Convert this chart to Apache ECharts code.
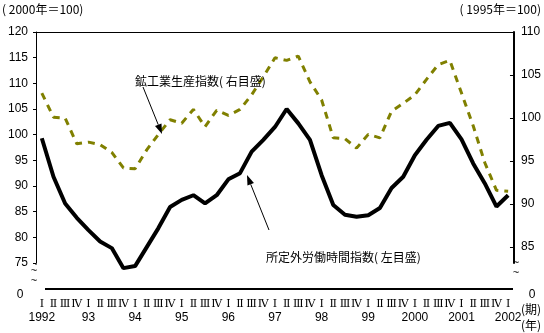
<!DOCTYPE html>
<html>
<head>
<meta charset="utf-8">
<script src="https://cdn.jsdelivr.net/npm/echarts@6/dist/echarts.min.js"></script>
<style>
  html, body { margin: 0; padding: 0; background: #fff; }
  #chart { width: 544px; height: 333px; }
</style>
</head>
<body>
<div id="chart"></div>
<script>
// Year labels (shown under each first quarter) and quarter marks
const years = ['1992', '93', '94', '95', '96', '97', '98', '99', '2000', '2001', '2002'];
const quarterMarks = ['Ⅰ', 'Ⅱ', 'Ⅲ', 'Ⅳ'];

// Axis tick values
const leftTicks = [75, 80, 85, 90, 95, 100, 105, 110, 115, 120];
const rightTicks = [85, 90, 95, 100, 105, 110];

// 所定外労働時間指数 (2000年=100, left scale), 1992Ⅰ .. 2002Ⅰ
const overtimeIndex = [
  99.3, 91.8, 86.6, 83.8,
  81.4, 79.2, 77.9, 74.0,
  74.4, 78.1, 81.8, 85.9,
  87.3, 88.2, 86.6, 88.2,
  91.3, 92.5, 96.7, 99.0,
  101.5, 105.0, 102.2, 99.0,
  92.1, 86.3, 84.4, 84.0,
  84.3, 85.7, 89.6, 91.8,
  96.0, 99.0, 101.7, 102.3,
  99.1, 94.4, 90.5, 86.0,
  88.2
];

// 鉱工業生産指数 (1995年=100, right scale), 1992Ⅰ .. 2002Ⅰ
const productionIndex = [
  102.9, 100.1, 100.0, 97.0,
  97.2, 96.9, 96.0, 94.2,
  94.1, 96.3, 98.1, 99.8,
  99.4, 101.0, 99.0, 100.9,
  100.3, 101.0, 102.7, 104.8,
  107.0, 106.7, 107.2, 104.2,
  102.1, 97.7, 97.6, 96.5,
  98.1, 97.7, 100.8, 101.7,
  102.7, 104.5, 106.2, 106.7,
  102.9, 99.1, 94.8, 91.6,
  91.5
];

// Category keys "quarter|year" (year only on the first quarter)
const categories = [];
years.forEach((y, yi) => {
  quarterMarks.forEach((q, qi) => {
    if (yi < years.length - 1 || qi === 0) {
      categories.push(q + '|' + (qi === 0 ? y : ''));
    }
  });
});

const numFont = '"Liberation Sans", Arial, sans-serif';
const jpFont = '"Noto Sans CJK JP", sans-serif';

const chart = echarts.init(document.getElementById('chart'), null, { renderer: 'canvas' });

function label(text, x, y, align, size, family) {
  return {
    type: 'text', x: x, y: y, z: 10,
    style: {
      text: text, fill: '#000', align: align || 'left', verticalAlign: 'middle',
      fontSize: size || 12, fontFamily: family || jpFont
    }
  };
}

function arrow(x1, y1, x2, y2) {
  const dx = x2 - x1, dy = y2 - y1, len = Math.sqrt(dx * dx + dy * dy);
  const ux = dx / len, uy = dy / len;
  const head = 10, half = 3.5;
  const bx = x2 - ux * head, by = y2 - uy * head;
  const px = -uy * half, py = ux * half;
  return [
    { type: 'line', z: 10, shape: { x1: x1, y1: y1, x2: bx, y2: by },
      style: { stroke: '#000', lineWidth: 1 } },
    { type: 'polygon', z: 10,
      shape: { points: [[x2, y2], [bx + px, by + py], [bx - px, by - py]] },
      style: { fill: '#000' } }
  ];
}

const option = {
  animation: false,
  backgroundColor: '#fff',
  grid: { left: 36, right: 30, top: 32, height: 231, containLabel: false },
  xAxis: [
    {
      type: 'category',
      data: categories,
      boundaryGap: true,
      position: 'bottom',
      axisLine: { show: false },
      axisTick: { show: false },
      axisLabel: {
        interval: 0,
        margin: 35,
        formatter: function (v) {
          const parts = v.split('|');
          return '{q|' + parts[0] + '}\n{y|' + (parts[1] || ' ') + '}';
        },
        rich: {
          q: { fontFamily: '"DejaVu Serif", serif', fontSize: 11, color: '#000', lineHeight: 13, align: 'center' },
          y: { fontFamily: numFont, fontSize: 12, color: '#000', lineHeight: 14, align: 'center' }
        }
      },
      splitLine: { show: false }
    },
    {
      type: 'category',
      data: categories,
      boundaryGap: true,
      position: 'top',
      axisLine: { show: true, lineStyle: { color: '#000', width: 1 } },
      axisTick: { show: false },
      axisLabel: { show: false },
      splitLine: { show: false }
    }
  ],
  yAxis: [
    {
      type: 'value',
      position: 'left',
      min: 75, max: 120, interval: 5,
      axisLine: { show: true, lineStyle: { color: '#000', width: 1 } },
      axisTick: { show: true, inside: false, length: 3, lineStyle: { color: '#000' } },
      axisLabel: {
        margin: 8, color: '#000', fontSize: 12, fontFamily: numFont,
        customValues: leftTicks
      },
      splitLine: { show: false }
    },
    {
      type: 'value',
      position: 'right',
      min: 83.15, max: 110,
      axisLine: { show: true, lineStyle: { color: '#000', width: 2 } },
      axisTick: { show: true, inside: true, length: 4, lineStyle: { color: '#000' }, customValues: rightTicks },
      axisLabel: {
        margin: 7, color: '#000', fontSize: 12, fontFamily: numFont,
        customValues: rightTicks
      },
      splitLine: { show: false }
    }
  ],
  series: [
    {
      name: '鉱工業生産指数',
      type: 'line',
      xAxisIndex: 0, yAxisIndex: 1,
      data: productionIndex,
      symbol: 'none',
      lineStyle: { color: '#808000', width: 3, type: [7, 6] },
      z: 2
    },
    {
      name: '所定外労働時間指数',
      type: 'line',
      xAxisIndex: 0, yAxisIndex: 0,
      data: overtimeIndex,
      symbol: 'none',
      clip: false,
      lineStyle: { color: '#000', width: 4 },
      z: 3
    }
  ],
  graphic: [
    // broken-axis baseline
    { type: 'line', z: 5, shape: { x1: 45, y1: 289, x2: 513, y2: 289 },
      style: { stroke: '#000', lineWidth: 2 } },
    { type: 'line', z: 5, shape: { x1: 36, y1: 263, x2: 36, y2: 265 },
      style: { stroke: '#000', lineWidth: 1 } },
    label('~', 34, 271, 'center', 11, numFont),
    label('~', 34, 281, 'center', 11, numFont),
    label('~', 516, 263, 'center', 11, numFont),
    label('~', 516, 273, 'center', 11, numFont),
    label('0', 20, 295, 'center', 12, numFont),
    label('0', 532, 295, 'center', 12, numFont),
    label('(期)', 531, 309, 'center', 12),
    label('(年)', 531, 325, 'center', 12),
    // scale notes
    label('( 2000年＝100)', 2, 9, 'left', 12),
    label('( 1995年＝100)', 541, 9, 'right', 12),
    // series annotations
    label('鉱工業生産指数( 右目盛)', 135, 81, 'left', 12),
    label('所定外労働時間指数( 左目盛)', 266, 257, 'left', 12)
  ].concat(arrow(143, 87, 162, 134), arrow(269, 230, 247, 175))
};

chart.setOption(option);
</script>
</body>
</html>
